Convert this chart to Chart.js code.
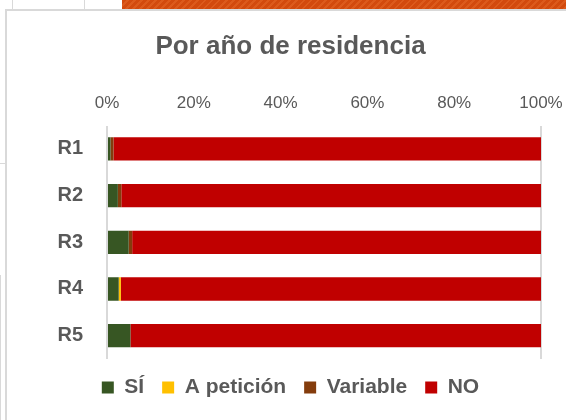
<!DOCTYPE html>
<html>
<head>
<meta charset="utf-8">
<script src="https://cdn.jsdelivr.net/npm/chart.js@4"></script>
<style>
  html, body { margin: 0; padding: 0; background: #fff; }
  #wrap { position: relative; width: 566px; height: 420px; overflow: hidden; }
  .ln { position: absolute; background: #d9d9d9; }
  #strip {
    position: absolute; left: 122px; top: 0; width: 444px; height: 9px;
    background: repeating-linear-gradient(135deg, #d24a0e 0 3px, #dc5a1c 3px 5px);
  }
  canvas { position: absolute; left: 0; top: 0; }
</style>
</head>
<body>
<div id="wrap">
  <div id="strip"></div>
  <div class="ln" style="left:12px;top:0;width:1px;height:10px"></div>
  <div class="ln" style="left:84px;top:0;width:1px;height:10px"></div>
  <div class="ln" style="left:5px;top:9px;width:561px;height:2px"></div>
  <div class="ln" style="left:5px;top:9px;width:2px;height:411px"></div>
  <div class="ln" style="left:0;top:163px;width:5px;height:1px"></div>
  <div class="ln" style="left:0;top:275px;width:1px;height:145px"></div>
  <canvas id="chart" width="566" height="420"></canvas>
</div>
<script>
const categories = ["R1", "R2", "R3", "R4", "R5"];
const si        = [0.8, 2.5, 5.0, 2.7, 5.4];
const peticion  = [0,   0,   0,   0.5, 0];
const variable  = [0.7, 0.8, 0.8, 0,   0];
const no        = [98.5, 96.7, 94.2, 96.8, 94.6];
const xTicks = [0, 20, 40, 60, 80, 100];

const textColor = "#595959";
const fontFam = "'Liberation Sans', Arial, sans-serif";

new Chart(document.getElementById("chart"), {
    type: "bar",
    data: {
        labels: categories,
        datasets: [
            { label: "SÍ", data: si, backgroundColor: "#375623" },
            { label: "A petición", data: peticion, backgroundColor: "#FFC000" },
            { label: "Variable", data: variable, backgroundColor: "#843C0C" },
            { label: "NO", data: no, backgroundColor: "#C00000" }
        ]
    },
    options: {
        indexAxis: "y",
        responsive: false,
        animation: false,
        layout: { padding: { left: 40, right: 25, top: 0, bottom: 12 } },
        datasets: { bar: { categoryPercentage: 0.5, barPercentage: 1, borderWidth: 0 } },
        scales: {
            x: {
                position: "top",
                stacked: true,
                min: 0,
                max: 100,
                afterBuildTicks: s => { s.ticks = xTicks.map(v => ({ value: v })); },
                // labels may overhang the plot, like in the original
                afterFit: s => { s.paddingLeft = 0; s.paddingRight = 0; },
                ticks: {
                    callback: v => v + "%",
                    color: textColor,
                    padding: 12,
                    font: { family: fontFam, size: 17 }
                },
                grid: {
                    drawTicks: false,
                    lineWidth: 2,
                    color: c => (c.tick && (c.tick.value === 0 || c.tick.value === 100)) ? "#D9D9D9" : "rgba(0,0,0,0)"
                },
                border: { display: false }
            },
            y: {
                stacked: true,
                afterFit: s => { s.width = 67; },
                ticks: {
                    color: textColor,
                    padding: 24,
                    font: { family: fontFam, size: 20, weight: "bold" }
                },
                grid: { display: false, drawTicks: false },
                border: { display: false }
            }
        },
        plugins: {
            title: {
                display: true,
                text: "Por año de residencia",
                color: textColor,
                font: { family: fontFam, size: 26, weight: "bold" },
                padding: { top: 31, bottom: 19 }
            },
            legend: {
                position: "bottom",
                labels: {
                    color: textColor,
                    boxWidth: 12,
                    boxHeight: 12,
                    padding: 18,
                    font: { family: fontFam, size: 21, weight: "bold" }
                }
            },
            tooltip: { enabled: false }
        }
    }
});
</script>
</body>
</html>
